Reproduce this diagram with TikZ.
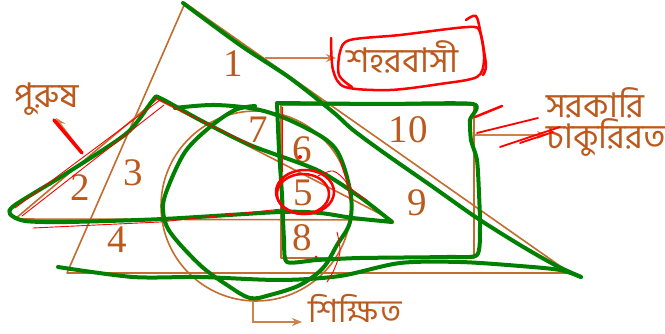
\documentclass[tikz,border=0pt]{standalone}
\usepackage{fontspec}
\setmainfont{Liberation Serif}
\newfontfamily\bn[Script=Bengali]{Hind Siliguri}
\usetikzlibrary{arrows.meta}
\definecolor{brownline}{RGB}{196,108,45}
\definecolor{browntext}{RGB}{188,90,30}
\definecolor{gstroke}{RGB}{0,128,0}
\definecolor{rstroke}{RGB}{255,0,0}
\begin{document}
\begin{tikzpicture}[x=1pt,y=-1pt,
  outline/.style={draw=brownline,line width=1.6pt,line join=round},
  ptr/.style={draw=brownline!85,line width=1.2pt,-{Stealth[length=10pt,width=8pt]}},
  num/.style={text=browntext,font=\fontsize{39}{39}\selectfont,inner sep=0pt},
  bnlabel/.style={text=browntext,font=\bn\fontsize{34}{30}\selectfont,inner sep=0pt},
  gpen/.style={draw=gstroke,line width=4pt,line cap=round,line join=round},
  rpen/.style={draw=rstroke,line width=2.5pt,line cap=round,line join=round},
  rthin/.style={draw=rstroke,line width=0.9pt,line cap=round,line join=round}]
\useasboundingbox (0,0) rectangle (665,334);
\fill[white] (0,0) rectangle (665,334);

% ---- brown geometry ----
\draw[outline] (185,3) -- (67,273) -- (570,273) -- cycle;
\draw[outline] (15,219) -- (157,99) -- (392,220) -- cycle;
\draw[outline] (256,206) circle [radius=95pt];
\draw[outline] (281,105) rectangle (474,258);

% ---- region numbers ----
\node[num] (n1) at (233,64) {1};
\node[num] (n2) at (80,188) {2};
\node[num] (n3) at (133,173) {3};
\node[num] (n4) at (117,240) {4};
\node[num] (n5) at (303,193) {5};
\node[num] (n6) at (302,150) {6};
\node[num] (n7) at (258,130) {7};
\node[num] (n8) at (302,238) {8};
\node[num] (n9) at (417,203) {9};
\node[num] (n10) at (408,130) {10};

% ---- labels ----
\node[bnlabel] (urban) at (402,57) {শহরবাসী};
\node[bnlabel] (male) at (47,99) {পুরুষ};
\node[bnlabel,align=left,anchor=west] (gov) at (546,122) {সরকারি\\[-1pt]চাকুরিরত};
\node[bnlabel,font=\bn\fontsize{32}{30}\selectfont,anchor=base] (edu) at (355,323) {শিক্ষিত};

% ---- pointers ----
\coordinate (uS) at (265,58);  \coordinate (uE) at (336,58);
\coordinate (mS) at (82,152);  \coordinate (mE) at (56,118);
\coordinate (gS) at (475,135); \coordinate (gE) at (547,135);
\coordinate (eS) at (253,301); \coordinate (eM) at (253,322); \coordinate (eE) at (302,322);
\draw[ptr] (uS) -- (uE);
\draw[ptr] (mS) -- (mE);
\draw[ptr] (gS) -- (gE);
\draw[ptr] (eS) -- (eM) -- (eE);

% ---- green hand strokes ----
\draw[gpen] plot[smooth,tension=0.5] coordinates {(183,3) (240,45) (290,78) (333,112) (353,130) (387,155) (433,187) (477,218) (520,245) (555,265) (581,277)};
\draw[gpen] plot[smooth,tension=0.5] coordinates {(581,277) (560,270) (520,266) (460,262) (400,263) (340,276) (280,280) (200,277) (133,277) (58,267)};
\draw[gpen] plot[smooth,tension=0.45] coordinates {(392,222) (353,218) (320,213) (280,212) (163,219) (67,222) (25,221) (10,214) (15,205) (67,173) (127,133) (153,100) (160,98) (200,120) (250,145) (317,170) (360,197) (392,222)};
\draw[gpen] plot[smooth,tension=0.55] coordinates {(175,108) (215,105) (260,110) (300,125) (335,148) (350,190) (350,222) (337,245) (323,268) (300,285) (270,295) (250,298) (227,285) (200,265) (170,232) (163,210) (167,190) (185,152) (210,127) (235,110) (255,106)};
\draw[gpen] plot[smooth,tension=0.4] coordinates {(277,103) (380,104) (473,104) (470,120) (471,140) (477,160) (479,193) (480,227) (477,255) (447,257) (360,258) (317,260) (287,262) (284,240) (282,195) (279,150) (277,103)};

% ---- red hand strokes ----
\draw[rpen] plot[smooth,tension=0.5] coordinates {(331,38) (333,70) (345,87) (390,90) (440,84) (477,77) (484,60) (480,32) (468,27) (400,35) (350,40) (340,52) (339,75) (352,87)};
\draw[rpen] plot[smooth,tension=0.5] coordinates {(466,20) (476,16) (481,35) (486,65) (483,75)};
\draw[rpen] (305,192) ellipse [x radius=29pt, y radius=22pt];
\draw[rpen] (303,194) ellipse [x radius=26pt, y radius=20pt];
\draw[rthin] plot[smooth] coordinates {(318,176) (333,171) (346,182) (350,200)};
\draw[rpen] (475,117) -- (502,106);
\draw[rpen,line width=1.8pt] (477,133) -- (538,118);
\draw[rpen,line width=1.8pt] (500,147) -- (560,127);
\draw[rpen,line width=1.8pt] (520,143) -- (553,132);
\draw[rpen,line width=3.5pt] (54,120) -- (82,153);
\draw[rthin] (15,208) -- (160,100);
\draw[rthin] (22,216) -- (164,105);
\draw[rthin] (155,98) -- (255,147);
\draw[rthin] (33,228) -- (160,222) -- (282,209);
\draw[rthin] (282,107) -- (282,172);
\draw[rthin] plot[smooth] coordinates {(337,232) (340,252) (333,272) (327,282)};
\draw[rthin] plot[smooth] coordinates {(340,160) (350,187) (367,200)};
\fill[rstroke] (300,157) circle [radius=2pt];
\fill[rstroke] (316,257) circle [radius=1.5pt];
\end{tikzpicture}
\end{document}
